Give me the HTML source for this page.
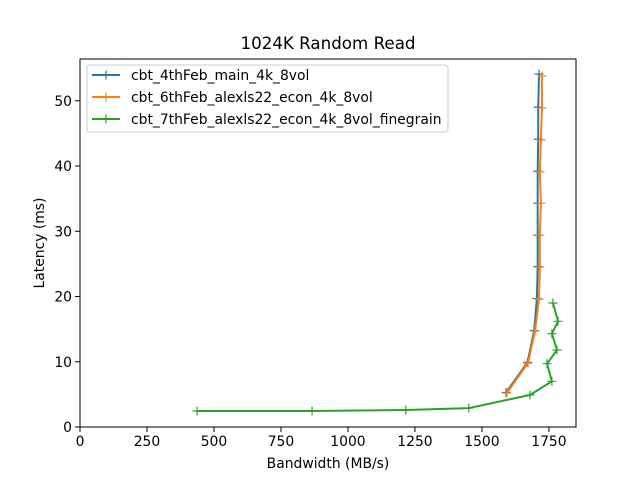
<!DOCTYPE html>
<html><head><meta charset="utf-8"><style>
body{margin:0;background:#fff;font-family:"DejaVu Sans","Liberation Sans",sans-serif;}
</style></head><body>
<svg width="640" height="480" xmlns="http://www.w3.org/2000/svg" font-family="DejaVu Sans, Liberation Sans, sans-serif">
<rect width="640" height="480" fill="#fff"/>
<text x="328" y="49" text-anchor="middle" font-size="16.7">1024K  Random Read</text>
<g id="plot"></g>
<rect x="80" y="59" width="496" height="368" fill="none" stroke="#000" stroke-width="1"/>
<text x="328" y="468" text-anchor="middle" font-size="13.9">Bandwidth (MB/s)</text>
<text transform="translate(44,243) rotate(-90)" text-anchor="middle" font-size="13.9">Latency (ms)</text>
<g>
<rect x="87" y="65" width="361" height="67" rx="3" fill="#fff" fill-opacity="0.8" stroke="#ccc"/>
<g id="legend"></g>
</g>
</svg>
<script>
const seriesNames=["cbt_4thFeb_main_4k_8vol","cbt_6thFeb_alexls22_econ_4k_8vol","cbt_7thFeb_alexls22_econ_4k_8vol_finegrain"];
const colors=["#1f77b4","#ff7f0e","#2ca02c"];
const s1x=[1713,1710,1710,1708,1708,1708,1708,1705,1695,1670,1590];
const s1y=[54.1,49.0,44.1,39.2,34.3,29.4,24.6,19.7,14.8,9.9,5.3];
const s2x=[1724,1724,1720,1716,1720,1716,1716,1713,1698,1672,1593];
const s2y=[53.8,48.9,44.0,39.1,34.3,29.4,24.5,19.6,14.7,9.8,5.2];
const s3x=[437,866,1216,1451,1679,1761,1743,1780,1761,1784,1765];
const s3y=[2.45,2.45,2.6,2.9,4.9,7.0,9.7,11.8,14.3,16.2,19.0];
const xTicks=[0,250,500,750,1000,1250,1500,1750];
const yTicks=[0,10,20,30,40,50];
const X0=80,X1=576,Y0=427,Y1=59,xMax=1851,yMax=56.4;
const sx=v=>X0+v/xMax*(X1-X0);
const sy=v=>Y0-v/yMax*(Y0-Y1);
const NS="http://www.w3.org/2000/svg";
const plot=document.getElementById('plot');
function mk(t,a,p){const e=document.createElementNS(NS,t);for(const k in a)e.setAttribute(k,a[k]);(p||plot).appendChild(e);return e;}
xTicks.forEach(v=>{
 const l=mk('line',{x1:sx(v),x2:sx(v),y1:Y0,y2:Y0+5,stroke:'#000'});
 
 
 const t=mk('text',{x:sx(v),y:Y0+19,'text-anchor':'middle','font-size':'13.9'});t.textContent=v;
 
 
});
yTicks.forEach(v=>{
 const l=mk('line',{x1:X0-5,x2:X0,y1:sy(v),y2:sy(v),stroke:'#000'});
 
 
 const t=mk('text',{x:X0-8,y:sy(v)+5,'text-anchor':'end','font-size':'13.9'});t.textContent=v;
 
 
});
function plus(p,x,y,c){mk('path',{d:`M${x-4.5},${y}H${x+4.5}M${x},${y-4.5}V${y+4.5}`,stroke:c,'stroke-width':1.2},p);}
const data=[[s1x,s1y],[s2x,s2y],[s3x,s3y]];
data.forEach((d,i)=>{
 const g=mk('g',{});
 
 
 const pts=d[0].map((x,j)=>sx(x)+','+sy(d[1][j])).join(' ');
 mk('polyline',{points:pts,fill:'none',stroke:colors[i],'stroke-width':2},g);
 d[0].forEach((x,j)=>plus(g,sx(x),sy(d[1][j]),colors[i]));
});
const lg=document.getElementById('legend');
seriesNames.forEach((n,i)=>{
 const y=75+i*22;
 const g=mk('g',{},lg);
 
 
 mk('line',{x1:92,x2:120,y1:y,y2:y,stroke:colors[i],'stroke-width':2},g);
 plus(g,106,y,colors[i]);
 const t=mk('text',{x:131,y:y+5,'font-size':'13.9'},g);t.textContent=n;
});
</script>
</body></html>
